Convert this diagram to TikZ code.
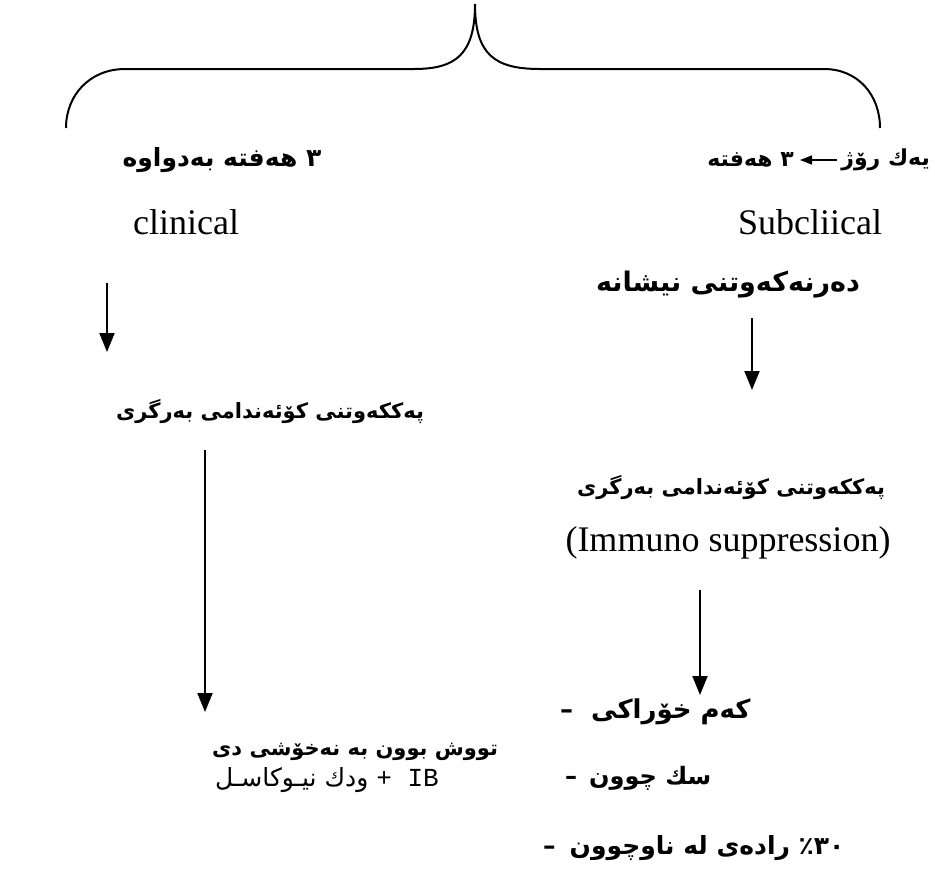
\documentclass[tikz,border=0pt]{standalone}
\usepackage{fontspec}
\setmainfont{Liberation Serif}
\newfontfamily\kufont[Script=Arabic]{DejaVu Sans}
\newfontfamily\monofont{Liberation Mono}
\TeXXeTstate=1
\usetikzlibrary{arrows.meta}
\newcommand\rw[1]{\beginR #1\endR}
\begin{document}
\begin{tikzpicture}[x=1pt,y=-1pt,
  kub/.style={font=\kufont\bfseries\fontsize{#1}{#1}\selectfont, inner sep=0pt},
  kub/.default=22,
  kur/.style={font=\kufont\fontsize{25}{28}\selectfont, inner sep=0pt},
  lat/.style={font=\fontsize{36}{40}\selectfont, inner sep=0pt},
  flow/.style={line width=2pt, -{Triangle[length=19pt,width=15pt]}},
  brace/.style={line width=2pt}]
\useasboundingbox (0,0) rectangle (935,876);
% brace
\draw[brace] (66,128) .. controls (66,95) and (90,69) .. (125,69) -- (414,69)
  .. controls (455,69) and (475,55) .. (475,4);
\draw[brace] (880,128) .. controls (880,95) and (858,69) .. (824,69) -- (540,69)
  .. controls (495,69) and (475,55) .. (475,4);
% top labels
\node[kub=25] (tl) at (222,160) {\rw{٣ هەفتە بەدواوە}};
\node[kub, anchor=east] (w3) at (794,160) {\rw{٣ هەفتە}};
\node[kub, anchor=east] (d1) at (930,160) {\rw{یەك رۆژ}};
\draw[line width=1.5pt, -{Triangle[length=12pt,width=9pt]}, shorten <=4pt, shorten >=6pt] (d1.west) -- (w3.east);
% latin
\node[lat] (cl) at (186,222) {clinical};
\node[lat] (sc) at (810,222) {Subcliical};
% right column
\node[kub=27] (nis) at (728,285) {\rw{دەرنەکەوتنی نیشانە}};
\node[kub=21] (pr) at (731,488) {\rw{پەککەوتنی کۆئەندامی بەرگری}};
\node[lat] (im) at (728,543) {(Immuno suppression)};
\node[kub=26, anchor=west] (b1) at (560,712) {–\hspace{18pt}\rw{کەم خۆراکی}};
\node[kub=24, anchor=west] (b2) at (565,778) {–\hspace{12pt}\rw{سك چوون}};
\node[kub=25, anchor=west] (b3) at (543,848) {–\hspace{14pt}\rw{رادەی لە ناوچوون} ٣٠٪};
% left column
\node[kub=21] (pl) at (270,412) {\rw{پەککەوتنی کۆئەندامی بەرگری}};
\node[kub=21, anchor=west] (t1) at (212,752) {\rw{تووش بوون بە نەخۆشی دی}};
\node[kur, anchor=west] (t2) at (215,780) {\rw{ودك نیـوكاسـل}\hspace{8pt}{\monofont\fontsize{26}{28}\selectfont + IB}};
% arrows
\coordinate (a1s) at (107,283); \coordinate (a1e) at (107,352);
\coordinate (a2s) at (205,450); \coordinate (a2e) at (205,712);
\coordinate (a3s) at (752,318); \coordinate (a3e) at (752,390);
\coordinate (a4s) at (700,590); \coordinate (a4e) at (700,695);
\draw[flow] (a1s) -- (a1e);
\draw[flow] (a2s) -- (a2e);
\draw[flow] (a3s) -- (a3e);
\draw[flow] (a4s) -- (a4e);
\end{tikzpicture}
\end{document}
